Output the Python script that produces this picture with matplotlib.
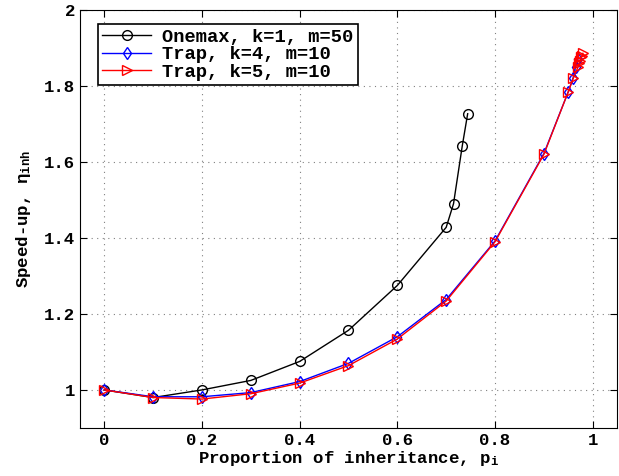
import numpy as np
import matplotlib
matplotlib.use("Agg")
import matplotlib.pyplot as plt

plt.rcParams['font.family'] = ['Liberation Mono', 'DejaVu Sans Mono']
plt.rcParams['font.weight'] = 'bold'
plt.rcParams['mathtext.fontset'] = 'custom'
plt.rcParams['mathtext.rm'] = 'Liberation Mono:bold'
plt.rcParams['mathtext.it'] = 'Liberation Mono:bold'
plt.rcParams['mathtext.bf'] = 'Liberation Mono:bold'

# Onemax, k=1, m=50
x_one = [0, 0.1, 0.2, 0.3, 0.4, 0.5, 0.6, 0.7, 0.715, 0.733, 0.744]
y_one = [1.0, 0.98, 1.0, 1.025, 1.075, 1.157, 1.275, 1.428, 1.49, 1.643, 1.727]

# Trap, k=4, m=10
x_k4 = [0, 0.1, 0.2, 0.3, 0.4, 0.5, 0.6, 0.7, 0.8, 0.9, 0.95, 0.96, 0.965, 0.97]
y_k4 = [1.0, 0.982, 0.982, 0.993, 1.022, 1.07, 1.14, 1.238, 1.392, 1.622,
        1.785, 1.822, 1.85, 1.872]

# Trap, k=5, m=10
x_k5 = [0, 0.1, 0.2, 0.3, 0.4, 0.5, 0.6, 0.7, 0.8, 0.9, 0.95, 0.96,
        0.97, 0.972, 0.974, 0.976, 0.978, 0.98]
y_k5 = [1.0, 0.98, 0.976, 0.99, 1.018, 1.064, 1.134, 1.234, 1.39, 1.62,
        1.785, 1.82, 1.85, 1.86, 1.866, 1.875, 1.88, 1.886]

fig = plt.figure(figsize=(6.19, 4.76), dpi=100)
ax = fig.add_axes([0.129, 0.101, 0.868, 0.878])

ax.plot(x_one, y_one, '-o', color='black', mfc='none', ms=7, lw=1,
        label='Onemax, k=1, m=50')
ax.plot(x_k4, y_k4, '-d', color='blue', mfc='none', ms=6, lw=1,
        label='Trap, k=4, m=10')
ax.plot(x_k5, y_k5, '->', color='red', mfc='none', ms=7, lw=1,
        label='Trap, k=5, m=10')

ax.set_xlim(-0.05, 1.05)
ax.set_ylim(0.9, 2.0)
ax.set_xticks([0, 0.2, 0.4, 0.6, 0.8, 1])
ax.set_xticklabels(['0', '0.2', '0.4', '0.6', '0.8', '1'])
ax.set_yticks([1, 1.2, 1.4, 1.6, 1.8, 2])
ax.set_yticklabels(['1', '1.2', '1.4', '1.6', '1.8', '2'])
ax.tick_params(direction='in', top=True, right=True, labelsize=12.5, length=5)
ax.grid(True, linestyle=(0, (1, 4)), color='gray', linewidth=0.8)

ax.set_xlabel(r'Proportion of inheritance, $\mathregular{p_i}$', fontsize=12.5,
              fontweight='bold', labelpad=1)
ax.set_ylabel(r'Speed-up, $\mathregular{\eta_{inh}}$', fontsize=12.5,
              fontweight='bold', labelpad=8)

leg = ax.legend(loc='upper left', bbox_to_anchor=(0.033, 0.967), fontsize=13.5,
                fancybox=False, edgecolor='black', framealpha=1, borderaxespad=0,
                handlelength=2.6, labelspacing=0.02, borderpad=0.25,
                handletextpad=0.6)
leg.get_frame().set_linewidth(1.2)

fig.savefig('out.png', dpi=100)
